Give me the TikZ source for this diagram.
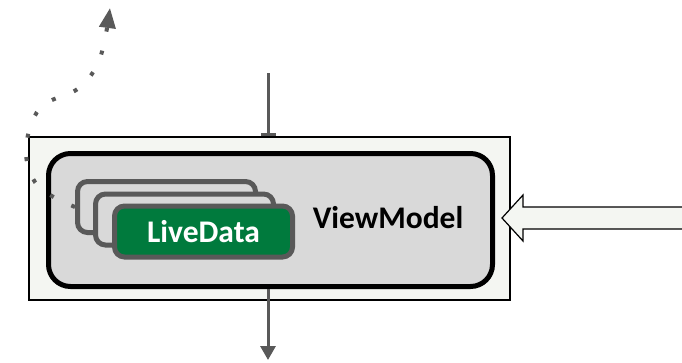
\documentclass[tikz,border=0pt]{standalone}
\usepackage{fontspec}
\setmainfont{Carlito}
\usetikzlibrary{arrows.meta}
\definecolor{framebg}{HTML}{F4F6F2}
\definecolor{vmgray}{HTML}{D9D9D9}
\definecolor{linegray}{HTML}{595959}
\definecolor{ldgreen}{HTML}{007A3D}
\tikzset{
  ldbox/.style={draw=linegray,line width=5pt,rounded corners=10pt,minimum width=178pt,minimum height=51pt,inner sep=0pt,anchor=north west},
  flow/.style={draw=linegray,line width=3pt}
}
\begin{document}
\begin{tikzpicture}[x=1pt,y=-1pt]
\useasboundingbox (0,0) rectangle (682,362);
\node[draw,line width=1.5pt,fill=framebg,minimum width=481pt,minimum height=163pt,inner sep=0pt,anchor=north west] (frame) at (28,136) {};
\node[draw,line width=5pt,fill=vmgray,rounded corners=22pt,minimum width=444pt,minimum height=133pt,inner sep=0pt,anchor=north west] (vm) at (46,151) {};
\foreach \n/\x/\y in {ld1/75/179, ld2/93/191.5} { \node[ldbox,fill=vmgray] (\n) at (\x,\y) {}; };
\node[ldbox,fill=ldgreen,text=white,font=\fontsize{31.5}{36}\selectfont\bfseries] (ld3) at (112,203.5) {LiveData};
\node[font=\fontsize{31.5}{36}\selectfont\bfseries] (vmlabel) at (388,218) {ViewModel};
\coordinate (topin) at (268,73); \coordinate (botout) at (268,360); \coordinate (upout) at (110,8);
\draw[flow,-{Bar[width=15pt]}] (topin) -- (topin |- frame.north);
\draw[flow,-{Triangle[width=15pt,length=14pt]}] (vm.south -| botout) -- (botout);
\draw[linegray,line width=4pt,dash pattern=on 4pt off 19.5pt,-{Triangle[width=16pt,length=20pt]}] plot[smooth,tension=0.6] coordinates {(ld1.west) (38,186) (26,150) (40,108) (79,88) (100,58) (upout)};
\draw[line width=1.2pt,fill=framebg] (690,207) -- (523,207) -- (523,195) -- (502,218) -- (523,241) -- (523,229) -- (690,229);
\end{tikzpicture}
\end{document}
